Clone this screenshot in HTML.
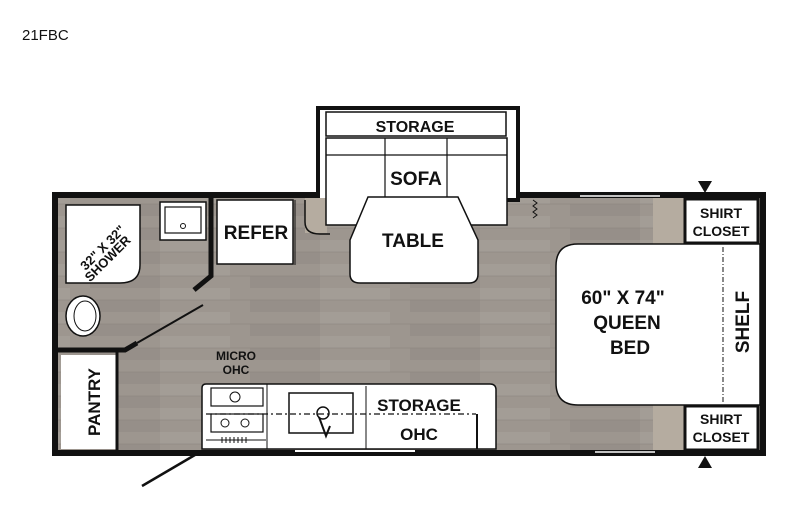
<!DOCTYPE html>
<html><head><style>
html,body{margin:0;padding:0;background:#fff;width:800px;height:505px;overflow:hidden}
svg text{font-family:"Liberation Sans Narrow","Liberation Sans",sans-serif;font-weight:bold;fill:#111}
</style></head><body>
<svg width="800" height="505" viewBox="0 0 800 505" xmlns="http://www.w3.org/2000/svg">
<defs>
<pattern id="wood" width="160" height="24" patternUnits="userSpaceOnUse">
<rect width="160" height="24" fill="#9d968f"/>
<rect x="0" y="0" width="70" height="12" fill="#a39d96"/>
<rect x="90" y="12" width="70" height="12" fill="#968f89"/>
<line x1="0" y1="12" x2="160" y2="12" stroke="#8a837d" stroke-width="0.5"/>
</pattern>
</defs>
<text x="22" y="40" font-size="15" style="font-weight:normal;font-family:'Liberation Sans',sans-serif">21FBC</text>

<!-- floor -->
<rect x="58" y="198" width="702" height="252" fill="url(#wood)"/>
<!-- outer walls -->
<path d="M55 450 V195 H318" fill="none" stroke="#111" stroke-width="6"/>
<path d="M518 195 H763 V453 H52" fill="none" stroke="#111" stroke-width="6"/>
<!-- slideout -->
<rect x="318" y="108" width="200" height="92" fill="#fff" stroke="#111" stroke-width="4"/>
<rect x="305" y="198" width="22" height="35" fill="#b5aca0"/>
<path d="M305 200 V222 Q305 234 320 234 H330" fill="none" stroke="#111" stroke-width="1.5"/>
<rect x="326" y="112" width="180" height="24" fill="#fff" stroke="#111" stroke-width="1.5"/>
<text x="415" y="132" font-size="16" text-anchor="middle">STORAGE</text>
<path d="M326 138 H507 V225 H326 Z" fill="#fff" stroke="#111" stroke-width="1.5"/>
<line x1="326" y1="155" x2="507" y2="155" stroke="#111" stroke-width="1.2"/>
<line x1="385" y1="138" x2="385" y2="200" stroke="#111" stroke-width="1.2"/>
<line x1="447" y1="138" x2="447" y2="200" stroke="#111" stroke-width="1.2"/>
<text x="416" y="185" font-size="19" text-anchor="middle">SOFA</text>
<path d="M368 197 H458 L478 240 V274 Q478 283 469 283 H360 Q350 283 350 274 V240 Z" fill="#fff" stroke="#111" stroke-width="1.5"/>
<text x="413" y="247" font-size="19" text-anchor="middle">TABLE</text>
<path d="M533 200 l4 3 l-4 3 l4 3 l-4 3 l4 3 l-4 3" fill="none" stroke="#111" stroke-width="1"/>

<!-- bathroom -->
<path d="M66 205 H140 V265 Q140 283 120 283 H66 Z" fill="#fff" stroke="#111" stroke-width="1.5"/>
<text x="103" y="252" font-size="13" text-anchor="middle" transform="rotate(-45 103 248)">32" X 32"</text>
<text x="108" y="263" font-size="13" text-anchor="middle" transform="rotate(-45 108 259)">SHOWER</text>
<rect x="160" y="202" width="46" height="38" fill="#fff" stroke="#111" stroke-width="1.5"/>
<rect x="165" y="207" width="36" height="26" fill="#fff" stroke="#111" stroke-width="1.2"/>
<circle cx="183" cy="226" r="2.5" fill="none" stroke="#111"/>
<ellipse cx="83" cy="316" rx="17" ry="20" fill="#fff" stroke="#111" stroke-width="1.5"/>
<ellipse cx="85" cy="316" rx="11" ry="15" fill="#fff" stroke="#111" stroke-width="1"/>
<path d="M211 198 V276 L194 290" fill="none" stroke="#111" stroke-width="5"/>
<path d="M58 350 H125 L137 343" fill="none" stroke="#111" stroke-width="5"/>
<line x1="137" y1="343" x2="203" y2="305" stroke="#111" stroke-width="2"/>
<!-- pantry -->
<rect x="61" y="355" width="55" height="94" fill="#fff"/>
<line x1="117" y1="352" x2="117" y2="450" stroke="#111" stroke-width="3"/>
<text x="94" y="402" font-size="17" text-anchor="middle" transform="rotate(-90 94 402)" dy="6">PANTRY</text>
<!-- refer -->
<rect x="217" y="200" width="76" height="64" fill="#fff" stroke="#111" stroke-width="1.5"/>
<line x1="295" y1="200" x2="295" y2="265" stroke="#111" stroke-width="1"/>
<text x="256" y="239" font-size="19" text-anchor="middle">REFER</text>
<text x="236" y="360" font-size="12" text-anchor="middle">MICRO</text>
<text x="236" y="374" font-size="12" text-anchor="middle">OHC</text>

<!-- kitchen -->
<path d="M202 449 V388 Q202 384 206 384 H490 Q496 384 496 390 V449 Z" fill="#fff" stroke="#111" stroke-width="1.5"/>
<line x1="267" y1="384" x2="267" y2="449" stroke="#111" stroke-width="1"/>
<line x1="366" y1="386" x2="366" y2="449" stroke="#111" stroke-width="1"/>
<rect x="211" y="388" width="52" height="18" fill="none" stroke="#111" stroke-width="1.2"/>
<circle cx="235" cy="397" r="5" fill="none" stroke="#111"/>
<rect x="211" y="414" width="52" height="18" fill="none" stroke="#111" stroke-width="1.2"/>
<circle cx="225" cy="423" r="4" fill="none" stroke="#111"/>
<circle cx="245" cy="423" r="4" fill="none" stroke="#111"/>
<path d="M222 437 v6 M226 437 v6 M230 437 v6 M234 437 v6 M238 437 v6 M242 437 v6 M246 437 v6" stroke="#111"/>
<line x1="206" y1="440" x2="266" y2="440" stroke="#111"/>
<rect x="289" y="393" width="64" height="40" fill="none" stroke="#111" stroke-width="1.5"/>
<circle cx="323" cy="413" r="6" fill="#fff" stroke="#111" stroke-width="1.5"/>
<path d="M319 417 L326 436 L330 426" fill="none" stroke="#111" stroke-width="2"/>
<line x1="206" y1="414" x2="476" y2="414" stroke="#111" stroke-width="1.3" stroke-dasharray="6,3,2,3"/>
<line x1="477" y1="414" x2="477" y2="449" stroke="#111" stroke-width="2"/>
<text x="419" y="411" font-size="17" text-anchor="middle">STORAGE</text>
<text x="419" y="440" font-size="17" text-anchor="middle">OHC</text>
<line x1="295" y1="451" x2="415" y2="451" stroke="#fff" stroke-width="2"/>
<line x1="200" y1="452" x2="142" y2="486" stroke="#111" stroke-width="2.5"/>

<!-- bedroom -->
<rect x="653" y="198" width="32" height="46" fill="#b5aca0"/>
<rect x="653" y="405" width="32" height="45" fill="#b5aca0"/>
<path d="M578 244 H760 V405 H578 Q556 405 556 383 V266 Q556 244 578 244 Z" fill="#fff" stroke="#111" stroke-width="1.5"/>
<line x1="723" y1="247" x2="723" y2="403" stroke="#111" stroke-width="1" stroke-dasharray="5,2,1,2"/>
<text x="623" y="304" font-size="19" text-anchor="middle">60" X 74"</text>
<text x="627" y="329" font-size="19" text-anchor="middle">QUEEN</text>
<text x="630" y="354" font-size="19" text-anchor="middle">BED</text>
<text x="742" y="322" font-size="19" text-anchor="middle" transform="rotate(-90 742 322)" dy="7">SHELF</text>
<rect x="685" y="199" width="73" height="44" fill="#fff" stroke="#111" stroke-width="3"/>
<text x="721" y="218" font-size="14" text-anchor="middle">SHIRT</text>
<text x="721" y="236" font-size="14" text-anchor="middle">CLOSET</text>
<rect x="685" y="406" width="73" height="44" fill="#fff" stroke="#111" stroke-width="3"/>
<text x="721" y="424" font-size="14" text-anchor="middle">SHIRT</text>
<text x="721" y="442" font-size="14" text-anchor="middle">CLOSET</text>
<path d="M698 181 H712 L705 193 Z" fill="#111"/>
<path d="M698 468 H712 L705 456 Z" fill="#111"/>
<line x1="580" y1="196" x2="660" y2="196" stroke="#fff" stroke-width="1.5"/>
<line x1="595" y1="452" x2="655" y2="452" stroke="#fff" stroke-width="1.5"/>
</svg>
</body></html>
